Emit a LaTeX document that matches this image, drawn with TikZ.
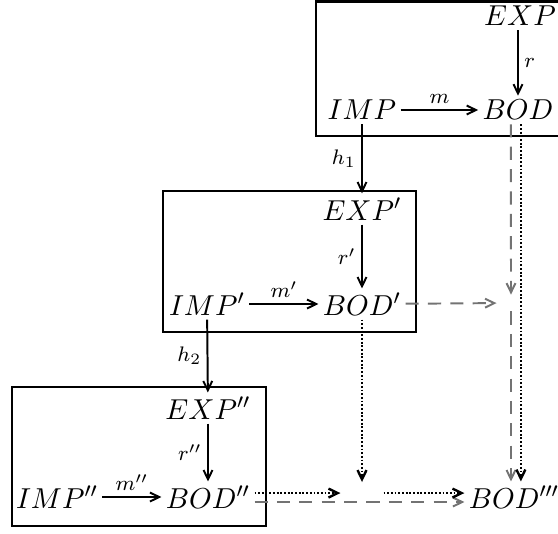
\documentclass[tikz,border=0pt]{standalone}
\usepackage{amsmath}
\usetikzlibrary{arrows.meta}

\begin{document}
\begin{tikzpicture}[
    x=0.38pt, y=-0.38pt,
    every node/.style={font=\fontsize{11.3}{13}\selectfont, inner sep=1.5pt},
    box/.style={line width=1.1pt},
    arr/.style={line width=0.75pt, -{Straight Barb[length=3.5pt,width=3.4pt]}},
    dasharr/.style={arr, black!55, dash pattern=on 5pt off 3.5pt},
    dotarr/.style={arr, line width=0.9pt, dash pattern=on 0.7pt off 0.7pt},
    lbl/.style={font=\footnotesize, inner sep=2pt},
    hole/.style={inner sep=0pt},
  ]
    \useasboundingbox (0,0) rectangle (558,533);

    % frames
    \draw[box] (558,1.5) -- (316,1.5) -- (316,136) -- (558,136);
    \draw[box] (163,191) rectangle (416,332);
    \draw[box] (12,387) rectangle (266,526);

    % top square
    \node (exp) at (520,16)  {$EXP$};
    \node (imp) at (362,110) {$IMP$};
    \node (bod) at (518,110) {$BOD$};

    % middle square
    \node (expa) at (362,209) {$EXP'$};
    \node (impa) at (207,304) {$IMP'$};
    \node (boda) at (362,304) {$BOD'$};

    % bottom square
    \node (expb) at (208,408) {$EXP''$};
    \node (impb) at (57,497)  {$IMP''$};
    \node (bodb) at (208,497) {$BOD''$};

    % target and empty places
    \node (bodc) at (514,497) {$BOD'''$};
    \node[hole, minimum width=10.6pt, minimum height=6pt] (gapa) at (511,303) {};
    \node[hole, minimum width=16pt, minimum height=11pt] (gapb) at (362,497) {};

    % solid arrows
    \draw[arr] (exp.south -| bod) -- node[lbl, right] {$r$} (bod);
    \draw[arr] (imp) -- node[lbl, above] {$m$} (bod);
    \draw[arr] (imp) -- node[lbl, left] {$h_1$} (expa);
    \draw[arr] (expa) -- node[lbl, left] {$r'$} (boda);
    \draw[arr] (impa) -- node[lbl, above] {$m'$} (boda);
    \draw[arr] (impa) -- node[lbl, left] {$h_2$} (expb);
    \draw[arr] (expb) -- node[lbl, left] {$r''$} (bodb);
    \draw[arr] (impb) -- node[lbl, above] {$m''$} (bodb);

    % dashed arrows
    \draw[dasharr] ([xshift=-2.7pt]bod.south) -- (gapa.north);
    \draw[dasharr] (boda) -- (gapa);
    \draw[dasharr] (gapa.south) -- (gapa.south |- bodc.north);
    \draw[dasharr] ([yshift=-1.9pt]bodb.east) -- ([yshift=-1.9pt]bodc.west);

    % dotted arrows
    \draw[dotarr] ([xshift=1.1pt]bod.south) -- ([xshift=1.1pt]bod.south |- bodc.north);
    \draw[dotarr] (boda) -- (gapb);
    \draw[dotarr] ([yshift=1.5pt]bodb.east) -- ([yshift=1.5pt]gapb.west);
    \draw[dotarr] ([yshift=1.5pt]gapb.east) -- ([yshift=1.5pt]bodc.west);
\end{tikzpicture}
\end{document}
